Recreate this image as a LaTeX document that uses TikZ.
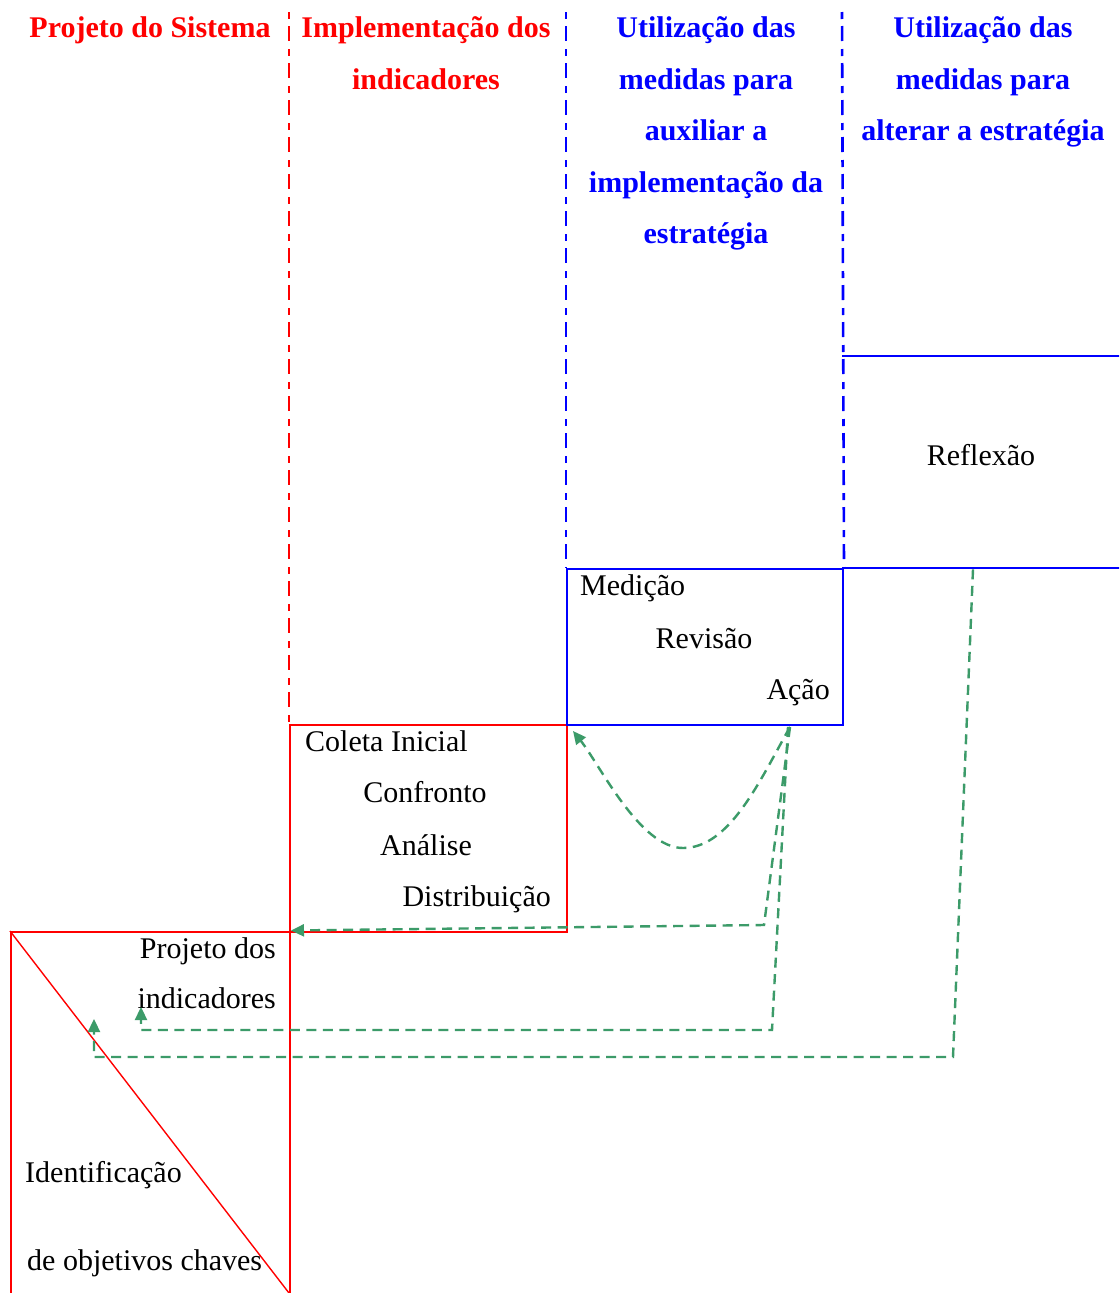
\documentclass[tikz,border=0pt]{standalone}
\usepackage{fontspec}
\setmainfont{Liberation Serif}
\usetikzlibrary{arrows.meta,calc}
\definecolor{pred}{RGB}{255,0,0}
\definecolor{pblue}{RGB}{0,0,255}
\definecolor{flow}{RGB}{60,155,105}
\begin{document}
\begin{tikzpicture}[x=1pt,y=-1pt,
  txt/.style={font=\fontsize{30}{36}\selectfont, inner sep=0pt, text=black},
  head/.style={font=\fontsize{30}{36}\selectfont\bfseries, inner sep=0pt, anchor=base},
  redhead/.style={head, text=pred},
  bluehead/.style={head, text=pblue},
  divider/.style={line width=2.6pt, dash pattern=on 7pt off 7pt on 15pt off 8pt},
  box/.style={draw=#1, line width=2pt, inner sep=0pt, anchor=north west},
  flowline/.style={draw=flow, line width=2.4pt, dash pattern=on 10pt off 6.5pt},
  flowarrow/.style={flowline, -{Triangle[length=13pt,width=12pt]}},
]
\useasboundingbox (0,0) rectangle (1119,1293);
\clip (0,0) rectangle (1119,1293);
\fill[white] (0,0) rectangle (1119,1293);

% stage boxes
\node[box=pred, minimum width=277pt, minimum height=206.5pt] (coleta) at (289,724) {};
\node[box=pblue, minimum width=276pt, minimum height=156pt] (medicao) at (566,568) {};
\node[anchor=north west, inner sep=0pt, minimum width=278pt, minimum height=212pt] (reflexao) at (842,356) {};
\draw[pblue, line width=2pt] (reflexao.north west) -- (reflexao.north east)
  (reflexao.south west) -- (reflexao.south east);
\node[box=pred, line width=1.6pt, minimum width=279pt, minimum height=420pt] (projeto) at (10,931) {};
\coordinate (diagend) at (289,1293);
\draw[pred, line width=1.4pt] (projeto.north west) -- (diagend);

% column dividers
\coordinate (top1) at (289,12);
\coordinate (top2) at (566,12);
\coordinate (top3) at (842,12);
\draw[divider, pred] (top1) -- (coleta.north west);
\draw[divider, pblue] (top2) -- (medicao.north west);
\draw[divider, pblue] (top3) -- (medicao.north east);

% column headings
\node[redhead] (h1) at (150,37) {Projeto do Sistema};
\node[redhead] (h2a) at (426,37) {Implementação dos};
\node[redhead] (h2b) at (426,89) {indicadores};
\node[bluehead] (h3a) at (706,37) {Utilização das};
\node[bluehead] (h3b) at (706,89) {medidas para};
\node[bluehead] (h3c) at (706,140) {auxiliar a};
\node[bluehead] (h3d) at (706,192) {implementação da};
\node[bluehead] (h3e) at (706,243) {estratégia};
\node[bluehead] (h4a) at (983,37) {Utilização das};
\node[bluehead] (h4b) at (983,89) {medidas para};
\node[bluehead] (h4c) at (983,140) {alterar a estratégia};

% box contents
\node[txt, anchor=base] (tref) at (981,465) {Reflexão};
\node[txt, anchor=base west] (tmed) at (580,595) {Medição};
\node[txt, anchor=base] (trev) at (704,648) {Revisão};
\node[txt, anchor=base east] (tacao) at (830,699) {Ação};
\node[txt, anchor=base west] (tcol) at (305,751) {Coleta Inicial};
\node[txt, anchor=base] (tconf) at (425,802) {Confronto};
\node[txt, anchor=base] (tanal) at (426,855) {Análise};
\node[txt, anchor=base east] (tdist) at (551,906) {Distribuição};
\node[txt, anchor=base east] (tproja) at (276,958) {Projeto dos};
\node[txt, anchor=base east] (tprojb) at (276,1008) {indicadores};
\node[txt, anchor=base west] (tida) at (25,1182) {Identificação};
\node[txt, anchor=base west] (tidb) at (27,1270) {de objetivos chaves};

% feedback connectors
\coordinate (ma) at ($(medicao.south west)+(224,1)$);
\coordinate (mb) at ($(medicao.south west)+(222,1)$);
\coordinate (ra) at ($(reflexao.south west)+(131,1)$);
\coordinate (backcol) at ($(coleta.north east)+(5,7)$);
\coordinate (backdist) at ($(coleta.south west)+(2,-2)$);
\coordinate (backind) at (141,1007);
\coordinate (backobj) at (94,1019);

\draw[flowarrow] (ma) .. controls (760,780) and (730,848) .. (683,848)
  .. controls (640,848) and (600,765) .. (backcol);
\draw[flowarrow] (ma) -- (764,925) -- (backdist);
\draw[flowarrow] (mb) -- (772,1030) -- (141,1030) -- (backind);
\draw[flowarrow] (ra) -- (953,1057) -- (94,1057) -- (backobj);
\end{tikzpicture}
\end{document}
